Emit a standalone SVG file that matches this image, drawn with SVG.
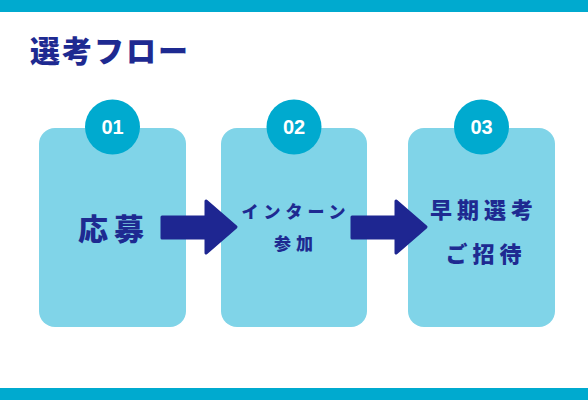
<svg xmlns="http://www.w3.org/2000/svg" width="588" height="400" viewBox="0 0 588 400">
<style>
.bar{fill:#00aacf}
.box{fill:#80d4e8}
.badge{fill:#00aacf}
.num{font-family:"Liberation Sans",Arial,sans-serif;font-weight:bold;font-size:20px;fill:#ffffff;text-anchor:middle}
.lbl{font-family:"Noto Sans CJK JP","Noto Sans",sans-serif;font-weight:900;fill:#1e2a91;text-anchor:middle}
.arrow{fill:#1e2691;stroke:#1e2691;stroke-width:3;stroke-linejoin:round}
</style>
<rect width="588" height="400" fill="#ffffff"/>
<rect class="bar" x="0" y="0" width="588" height="12"/>
<rect class="bar" x="0" y="388" width="588" height="12"/>
<text x="30" y="62" font-family="'Noto Sans CJK JP','Noto Sans',sans-serif" font-weight="900" font-size="30" letter-spacing="2" fill="#1e2a91">選考フロー</text>
<g id="step1">
<rect class="box" x="39" y="128" width="147" height="199" rx="16"/>
<circle class="badge" cx="112.5" cy="127" r="27.5"/>
<text class="num" x="112.5" y="134">01</text>
<text class="lbl" x="114" y="240" font-size="30" letter-spacing="6">応募</text>
</g>
<g id="step2">
<rect class="box" x="221" y="128" width="146" height="199" rx="16"/>
<circle class="badge" cx="294" cy="127" r="27.5"/>
<text class="num" x="294" y="134">02</text>
<text class="lbl" x="296" y="218" font-size="17" letter-spacing="5">インターン</text>
<text class="lbl" x="296" y="250" font-size="17" letter-spacing="5">参加</text>
</g>
<g id="step3">
<rect class="box" x="408" y="128" width="147" height="199" rx="16"/>
<circle class="badge" cx="481.5" cy="127" r="27.5"/>
<text class="num" x="481.5" y="134">03</text>
<text class="lbl" x="484" y="218" font-size="22" letter-spacing="5">早期選考</text>
<text class="lbl" x="486" y="262" font-size="22" letter-spacing="5">ご招待</text>
</g>
<g id="connectors">
<path class="arrow" d="M162,217 H206 V201 L236,227 L206,253 V238 H162 Z"/>
<path class="arrow" d="M352,217 H396 V201 L426,227 L396,253 V238 H352 Z"/>
</g>
</svg>
